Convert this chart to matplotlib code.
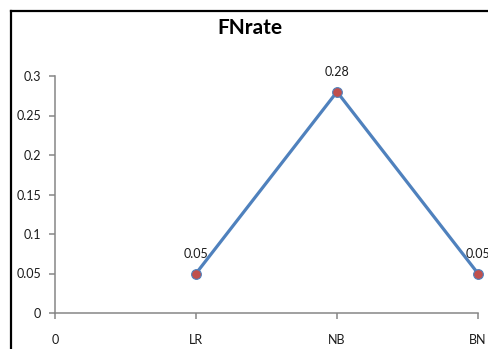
import matplotlib.pyplot as plt
from matplotlib.lines import Line2D

plt.rcParams['font.family'] = ['Lato', 'DejaVu Sans']

# FN rate per classifier
models = ['LR', 'NB', 'BN']
fn_rate = [0.05, 0.28, 0.05]
x_labels = ['0'] + models
y_ticks = [0, 0.05, 0.1, 0.15, 0.2, 0.25, 0.3]

line_col = '#4F81BD'
dot_col = '#C0504D'
axis_col = '#868686'

fig = plt.figure(figsize=(4.89, 3.49), dpi=100)
ax = fig.add_axes([55/489, 1-313/349, (478-55)/489, (313-76)/349])

xs = list(range(1, len(models) + 1))
ax.plot(xs, fn_rate, color=line_col, lw=2.3, marker='o', ms=7,
        mfc=dot_col, mec=line_col, mew=0.8, clip_on=False, zorder=3)
for x, v in zip(xs, fn_rate):
    ax.annotate(f'{v:g}', (x, v), xytext=(0, 10), textcoords='offset points',
                ha='center', va='bottom', fontsize=9, color='#1a1a1a',
                annotation_clip=False)

ax.set_xlim(0, len(models))
ax.set_ylim(0, 0.3)
ax.set_xticks(range(len(x_labels)))
ax.set_xticklabels(x_labels)
ax.set_yticks(y_ticks)
ax.set_yticklabels([f'{t:g}' for t in y_ticks])

for s in ['top', 'right']:
    ax.spines[s].set_visible(False)
for s in ['left', 'bottom']:
    ax.spines[s].set_color(axis_col)
    ax.spines[s].set_linewidth(1.1)
ax.tick_params(axis='both', colors=axis_col, length=4, width=1.1,
               labelcolor='#1a1a1a', labelsize=9)
ax.tick_params(axis='x', pad=11)
ax.tick_params(axis='y', pad=6)

fig.text(250/489, 1-28/349, 'FNrate', ha='center', va='center',
         fontsize=15, fontweight='bold')

# chart frame, open at the right and bottom edges
fx, fy = 11/489, 1-11/349
fig.add_artist(Line2D([fx, fx], [0, fy], color='black', lw=1.6,
                      transform=fig.transFigure))
fig.add_artist(Line2D([fx, 1], [fy, fy], color='black', lw=1.6,
                      transform=fig.transFigure))

fig.savefig('out.png', dpi=100)
